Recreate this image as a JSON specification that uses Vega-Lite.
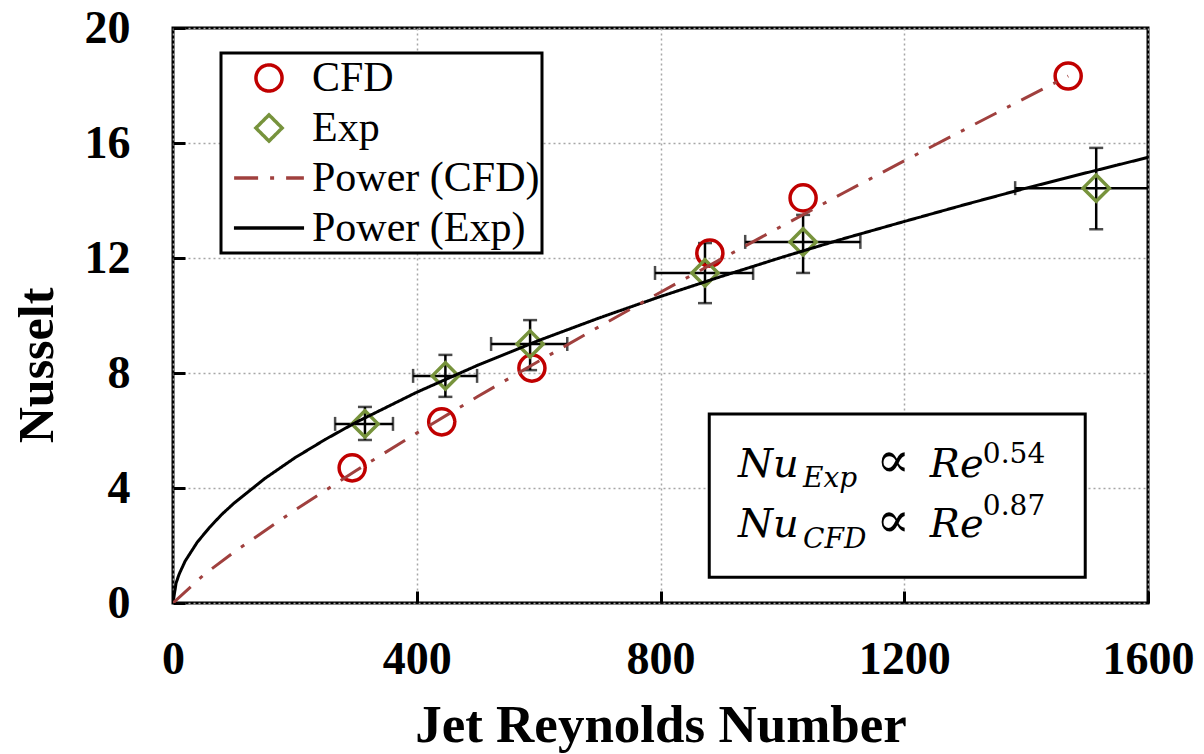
{
  "$schema": "https://vega.github.io/schema/vega-lite/v6.json",
  "width": 975,
  "height": 575,
  "autosize": "none",
  "padding": {"left": 173, "top": 28, "right": 56, "bottom": 151},
  "background": "white",
  "config": {
    "view": {"stroke": "black", "strokeWidth": 3},
    "font": "Liberation Serif",
    "legend": {"strokeWidth": 3},
    "axis": {
      "domain": false,
      "grid": true,
      "gridColor": "#a6a6a6",
      "gridDash": [2, 3],
      "gridWidth": 1.5,
      "ticks": true,
      "tickSize": -12,
      "tickWidth": 3,
      "tickColor": "black",
      "labelFont": "Liberation Serif",
      "labelFontWeight": "bold",
      "labelFontSize": 46,
      "labelColor": "black",
      "labelFlush": false,
      "titleFont": "Liberation Serif",
      "titleFontWeight": "bold",
      "titleFontSize": 53,
      "titleColor": "black"
    }
  },
  "datasets": {
    "cfd": [
      {"re": 294, "nu": 4.7, "series": "CFD"},
      {"re": 441, "nu": 6.3, "series": "CFD"},
      {"re": 589, "nu": 8.17, "series": "CFD"},
      {"re": 881, "nu": 12.17, "series": "CFD"},
      {"re": 1034, "nu": 14.09, "series": "CFD"},
      {"re": 1469, "nu": 18.33, "series": "CFD"}
    ],
    "exp": [
      {"re": 315, "nu": 6.23, "relo": 266, "rehi": 361, "nulo": 5.67, "nuhi": 6.82, "series": "Exp"},
      {"re": 447, "nu": 7.9, "relo": 394, "rehi": 499, "nulo": 7.17, "nuhi": 8.63, "series": "Exp"},
      {"re": 586, "nu": 9.01, "relo": 522, "rehi": 647, "nulo": 8.1, "nuhi": 9.84, "series": "Exp"},
      {"re": 873, "nu": 11.48, "relo": 791, "rehi": 952, "nulo": 10.43, "nuhi": 12.52, "series": "Exp"},
      {"re": 1034, "nu": 12.56, "relo": 939, "rehi": 1128, "nulo": 11.48, "nuhi": 13.5, "series": "Exp"},
      {"re": 1515, "nu": 14.43, "relo": 1382, "rehi": 1648, "nulo": 13.0, "nuhi": 15.83, "series": "Exp"}
    ],
    "fitExp": [
      {"re": 0, "nu": 0, "series": "Power (Exp)"},
      {"re": 5, "nu": 0.69, "series": "Power (Exp)"},
      {"re": 10, "nu": 1.0, "series": "Power (Exp)"},
      {"re": 20, "nu": 1.46, "series": "Power (Exp)"},
      {"re": 40, "nu": 2.12, "series": "Power (Exp)"},
      {"re": 60, "nu": 2.63, "series": "Power (Exp)"},
      {"re": 80, "nu": 3.08, "series": "Power (Exp)"},
      {"re": 100, "nu": 3.47, "series": "Power (Exp)"},
      {"re": 150, "nu": 4.32, "series": "Power (Exp)"},
      {"re": 200, "nu": 5.05, "series": "Power (Exp)"},
      {"re": 250, "nu": 5.69, "series": "Power (Exp)"},
      {"re": 300, "nu": 6.28, "series": "Power (Exp)"},
      {"re": 400, "nu": 7.33, "series": "Power (Exp)"},
      {"re": 500, "nu": 8.27, "series": "Power (Exp)"},
      {"re": 600, "nu": 9.13, "series": "Power (Exp)"},
      {"re": 700, "nu": 9.92, "series": "Power (Exp)"},
      {"re": 800, "nu": 10.66, "series": "Power (Exp)"},
      {"re": 900, "nu": 11.36, "series": "Power (Exp)"},
      {"re": 1000, "nu": 12.03, "series": "Power (Exp)"},
      {"re": 1100, "nu": 12.67, "series": "Power (Exp)"},
      {"re": 1200, "nu": 13.27, "series": "Power (Exp)"},
      {"re": 1300, "nu": 13.86, "series": "Power (Exp)"},
      {"re": 1400, "nu": 14.43, "series": "Power (Exp)"},
      {"re": 1500, "nu": 14.97, "series": "Power (Exp)"},
      {"re": 1600, "nu": 15.5, "series": "Power (Exp)"}
    ],
    "fitCfd": [
      {"re": 0, "nu": 0, "series": "Power (CFD)"},
      {"re": 50, "nu": 0.97, "series": "Power (CFD)"},
      {"re": 100, "nu": 1.77, "series": "Power (CFD)"},
      {"re": 200, "nu": 3.23, "series": "Power (CFD)"},
      {"re": 300, "nu": 4.6, "series": "Power (CFD)"},
      {"re": 400, "nu": 5.91, "series": "Power (CFD)"},
      {"re": 500, "nu": 7.18, "series": "Power (CFD)"},
      {"re": 600, "nu": 8.41, "series": "Power (CFD)"},
      {"re": 700, "nu": 9.62, "series": "Power (CFD)"},
      {"re": 800, "nu": 10.81, "series": "Power (CFD)"},
      {"re": 900, "nu": 11.97, "series": "Power (CFD)"},
      {"re": 1000, "nu": 13.12, "series": "Power (CFD)"},
      {"re": 1100, "nu": 14.26, "series": "Power (CFD)"},
      {"re": 1200, "nu": 15.38, "series": "Power (CFD)"},
      {"re": 1300, "nu": 16.48, "series": "Power (CFD)"},
      {"re": 1400, "nu": 17.58, "series": "Power (CFD)"},
      {"re": 1469, "nu": 18.33, "series": "Power (CFD)"}
    ]
  },
  "layer": [
    {
      "data": {"name": "exp"},
      "mark": {"type": "rule", "color": "black", "strokeWidth": 2.5, "clip": true},
      "encoding": {
        "x": {"field": "relo", "type": "quantitative", "scale": {"domain": [0, 1600], "nice": false, "zero": false},
          "axis": {"values": [0, 400, 800, 1200, 1600], "format": "d", "labelPadding": 46, "titlePadding": 17}, "title": "Jet Reynolds Number"},
        "x2": {"field": "rehi"},
        "y": {"field": "nu", "type": "quantitative", "scale": {"domain": [0, 20], "nice": false},
          "axis": {"values": [0, 4, 8, 12, 16, 20], "format": "d", "labelPadding": 55, "titleFontSize": 50, "titleBaseline": "alphabetic", "titleX": -121, "titleY": 337}, "title": "Nusselt"}
      }
    },
    {
      "data": {"name": "exp"},
      "mark": {"type": "rule", "color": "black", "strokeWidth": 2.5},
      "encoding": {
        "x": {"field": "re", "type": "quantitative", "title": "Jet Reynolds Number"},
        "y": {"field": "nulo", "type": "quantitative", "title": "Nusselt"},
        "y2": {"field": "nuhi"}
      }
    },
    {
      "data": {"name": "exp"},
      "mark": {"type": "tick", "orient": "vertical", "color": "black", "size": 14, "thickness": 2.5, "clip": true},
      "encoding": {
        "x": {"field": "relo", "type": "quantitative", "title": "Jet Reynolds Number"},
        "y": {"field": "nu", "type": "quantitative", "title": "Nusselt"}
      }
    },
    {
      "data": {"name": "exp"},
      "mark": {"type": "tick", "orient": "vertical", "color": "black", "size": 14, "thickness": 2.5, "clip": true},
      "encoding": {
        "x": {"field": "rehi", "type": "quantitative", "title": "Jet Reynolds Number"},
        "y": {"field": "nu", "type": "quantitative", "title": "Nusselt"}
      }
    },
    {
      "data": {"name": "exp"},
      "mark": {"type": "tick", "orient": "horizontal", "color": "black", "size": 14, "thickness": 2.5},
      "encoding": {
        "x": {"field": "re", "type": "quantitative", "title": "Jet Reynolds Number"},
        "y": {"field": "nulo", "type": "quantitative", "title": "Nusselt"}
      }
    },
    {
      "data": {"name": "exp"},
      "mark": {"type": "tick", "orient": "horizontal", "color": "black", "size": 14, "thickness": 2.5},
      "encoding": {
        "x": {"field": "re", "type": "quantitative", "title": "Jet Reynolds Number"},
        "y": {"field": "nuhi", "type": "quantitative", "title": "Nusselt"}
      }
    },
    {
      "data": {"name": "cfd"},
      "mark": {"type": "point", "filled": false, "strokeWidth": 3.5, "opacity": 1},
      "encoding": {
        "x": {"field": "re", "type": "quantitative", "title": "Jet Reynolds Number"},
        "y": {"field": "nu", "type": "quantitative", "title": "Nusselt"},
        "color": {
          "field": "series", "type": "nominal",
          "scale": {"domain": ["CFD", "Exp", "Power (CFD)", "Power (Exp)"], "range": ["#C00000", "#77933C", "#A0403E", "#000000"]},
          "legend": {
            "title": null,
            "orient": "none",
            "legendX": 48,
            "legendY": 25,
            "columns": 1,
            "padding": 2,
            "fillColor": "white",
            "strokeColor": "black",
            "labelFont": "Liberation Serif",
            "labelFontSize": 42,
            "labelColor": "black",
            "labelLimit": 500,
            "labelOffset": 22,
            "symbolOffset": 25,
            "labelExpr": "datum.label + '\u00a0\u00a0\u00a0'",
            "clipHeight": 46,
            "symbolStrokeWidth": 3.5,
            "rowPadding": 4
          }
        },
        "shape": {
          "field": "series", "type": "nominal", "title": null,
          "scale": {"domain": ["CFD", "Exp", "Power (CFD)", "Power (Exp)"], "range": ["circle", "diamond", "M-2.65,0L2.65,0", "M-2.65,0L2.65,0"]}
        },
        "size": {
          "field": "series", "type": "nominal", "title": null,
          "scale": {"domain": ["CFD", "Exp", "Power (CFD)", "Power (Exp)"], "range": [680, 700, 700, 700]}
        }
      }
    },
    {
      "data": {"name": "exp"},
      "mark": {"type": "point", "filled": false, "strokeWidth": 3.5, "opacity": 1},
      "encoding": {
        "x": {"field": "re", "type": "quantitative", "title": "Jet Reynolds Number"},
        "y": {"field": "nu", "type": "quantitative", "title": "Nusselt"},
        "color": {"field": "series", "type": "nominal", "title": null},
        "shape": {"field": "series", "type": "nominal", "title": null},
        "size": {"field": "series", "type": "nominal", "title": null}
      }
    },
    {
      "data": {"name": "fitExp"},
      "mark": {"type": "line", "strokeWidth": 3, "clip": true},
      "encoding": {
        "x": {"field": "re", "type": "quantitative", "title": "Jet Reynolds Number"},
        "y": {"field": "nu", "type": "quantitative", "title": "Nusselt"},
        "color": {"field": "series", "type": "nominal", "title": null},
        "strokeDash": {
          "field": "series", "type": "nominal", "title": null,
          "scale": {"domain": ["CFD", "Exp", "Power (CFD)", "Power (Exp)"], "range": [[1, 0], [1, 0], [24, 12, 4, 12], [1, 0]]}
        }
      }
    },
    {
      "data": {"name": "fitCfd"},
      "mark": {"type": "line", "strokeWidth": 3, "clip": true},
      "encoding": {
        "x": {"field": "re", "type": "quantitative", "title": "Jet Reynolds Number"},
        "y": {"field": "nu", "type": "quantitative", "title": "Nusselt"},
        "color": {"field": "series", "type": "nominal", "title": null},
        "strokeDash": {"field": "series", "type": "nominal", "title": null}
      }
    },
    {
      "data": {"values": [{}]},
      "mark": {"type": "rect", "fill": "white", "stroke": "black", "strokeWidth": 3},
      "encoding": {
        "x": {"datum": 880, "type": "quantitative"},
        "x2": {"datum": 1497},
        "y": {"datum": 6.57, "type": "quantitative"},
        "y2": {"datum": 0.9}
      }
    },
    {
      "data": {"values": [{}]},
      "mark": {"type": "text", "font": "DejaVu Serif", "fontStyle": "italic", "fontSize": 40, "align": "left", "baseline": "alphabetic", "lineHeight": 60, "color": "black"},
      "encoding": {
        "x": {"datum": 927, "type": "quantitative"},
        "y": {"datum": 4.383, "type": "quantitative"},
        "text": {"value": ["Nu", "Nu"]}
      }
    },
    {
      "data": {"values": [{}]},
      "mark": {"type": "text", "font": "DejaVu Serif", "fontStyle": "italic", "fontSize": 28, "align": "left", "baseline": "alphabetic", "lineHeight": 61, "color": "black"},
      "encoding": {
        "x": {"datum": 1034, "type": "quantitative"},
        "y": {"datum": 4.035, "type": "quantitative"},
        "text": {"value": ["Exp", "CFD"]}
      }
    },
    {
      "data": {"values": [{}]},
      "mark": {"type": "text", "font": "DejaVu Serif", "fontSize": 50, "align": "left", "baseline": "alphabetic", "lineHeight": 60, "color": "black"},
      "encoding": {
        "x": {"datum": 1154, "type": "quantitative"},
        "y": {"datum": 4.383, "type": "quantitative"},
        "text": {"value": ["∝", "∝"]}
      }
    },
    {
      "data": {"values": [{}]},
      "mark": {"type": "text", "font": "DejaVu Serif", "fontStyle": "italic", "fontSize": 40, "align": "left", "baseline": "alphabetic", "lineHeight": 60, "color": "black"},
      "encoding": {
        "x": {"datum": 1242, "type": "quantitative"},
        "y": {"datum": 4.383, "type": "quantitative"},
        "text": {"value": ["Re", "Re"]}
      }
    },
    {
      "data": {"values": [{}]},
      "mark": {"type": "text", "font": "DejaVu Serif", "fontSize": 28, "align": "left", "baseline": "alphabetic", "lineHeight": 52, "color": "black"},
      "encoding": {
        "x": {"datum": 1329, "type": "quantitative"},
        "y": {"datum": 4.87, "type": "quantitative"},
        "text": {"value": ["0.54", "0.87"]}
      }
    }
  ]
}
